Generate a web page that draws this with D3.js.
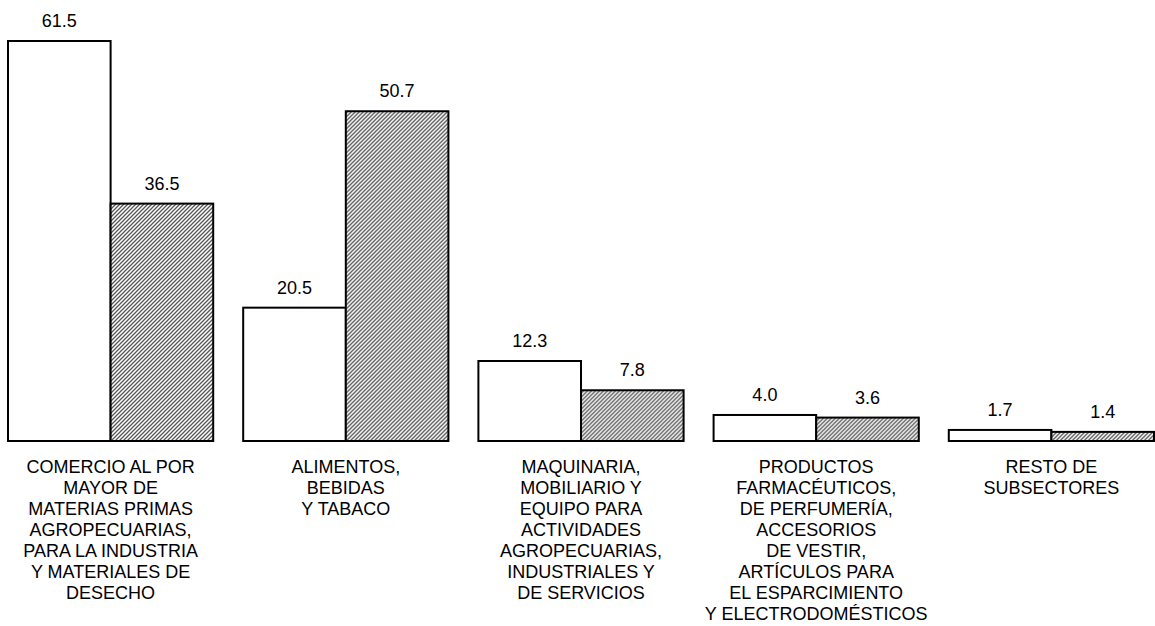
<!DOCTYPE html>
<html>
<head>
<meta charset="utf-8">
<script src="https://cdn.jsdelivr.net/npm/d3@7"></script>
<style>
  html, body { margin: 0; padding: 0; background: #fff; }
  svg { display: block; }
  text { font-family: "Liberation Sans", Arial, sans-serif; fill: #000; }
</style>
</head>
<body>
<svg id="chart" width="1155" height="626"></svg>
<script>
const categories = [
  ["COMERCIO AL POR", "MAYOR DE", "MATERIAS PRIMAS", "AGROPECUARIAS,", "PARA LA INDUSTRIA", "Y MATERIALES DE", "DESECHO"],
  ["ALIMENTOS,", "BEBIDAS", "Y TABACO"],
  ["MAQUINARIA,", "MOBILIARIO Y", "EQUIPO PARA", "ACTIVIDADES", "AGROPECUARIAS,", "INDUSTRIALES Y", "DE SERVICIOS"],
  ["PRODUCTOS", "FARMACÉUTICOS,", "DE PERFUMERÍA,", "ACCESORIOS", "DE VESTIR,", "ARTÍCULOS PARA", "EL ESPARCIMIENTO", "Y ELECTRODOMÉSTICOS"],
  ["RESTO DE", "SUBSECTORES"]
];
const seriesNames = ["serie1", "serie2"];
const series1 = [61.5, 20.5, 12.3, 4.0, 1.7];
const series2 = [36.5, 50.7, 7.8, 3.6, 1.4];

const svg = d3.select("#chart");
const defs = svg.append("defs");
const pat = defs.append("pattern")
  .attr("id", "hatch")
  .attr("patternUnits", "userSpaceOnUse")
  .attr("width", 4).attr("height", 4);
pat.append("rect").attr("width", 4).attr("height", 4).attr("fill", "#fff");
pat.append("path")
  .attr("d", "M-1,1 L1,-1 M0,4 L4,0 M3,5 L5,3")
  .attr("stroke", "#555").attr("stroke-width", 1.3);

const baseline = 441;
const y = d3.scaleLinear().domain([0, 61.5]).range([baseline, 41]);
const idx = d3.range(categories.length);
const x0 = d3.scaleBand().domain(idx).range([8, 1154]).paddingInner(0.1275).paddingOuter(0);
const x1 = d3.scaleBand().domain(seriesNames).range([0, x0.bandwidth()]).padding(0);

const data = idx.map(i => ({ i, values: [
  { key: "serie1", v: series1[i] },
  { key: "serie2", v: series2[i] }
]}));

const g = svg.selectAll("g.grp").data(data).join("g")
  .attr("class", "grp")
  .attr("transform", d => `translate(${x0(d.i)},0)`);

g.selectAll("rect").data(d => d.values).join("rect")
  .attr("x", d => x1(d.key))
  .attr("y", d => y(d.v))
  .attr("width", x1.bandwidth())
  .attr("height", d => baseline - y(d.v))
  .attr("fill", d => d.key === "serie1" ? "#fff" : "url(#hatch)")
  .attr("stroke", "#000")
  .attr("stroke-width", 2);

g.selectAll("text.val").data(d => d.values).join("text")
  .attr("class", "val")
  .attr("x", d => x1(d.key) + x1.bandwidth() / 2)
  .attr("y", d => y(d.v) - 14)
  .attr("text-anchor", "middle")
  .attr("font-size", 18)
  .text(d => d.v.toFixed(1));

g.append("text")
  .attr("text-anchor", "middle")
  .attr("font-size", 18)
  .attr("transform", d => `translate(${x0.bandwidth() / 2},0)`)
  .selectAll("tspan").data(d => categories[d.i]).join("tspan")
  .attr("x", 0)
  .attr("y", (d, k) => 473 + k * 21)
  .text(d => d);
</script>
</body>
</html>
